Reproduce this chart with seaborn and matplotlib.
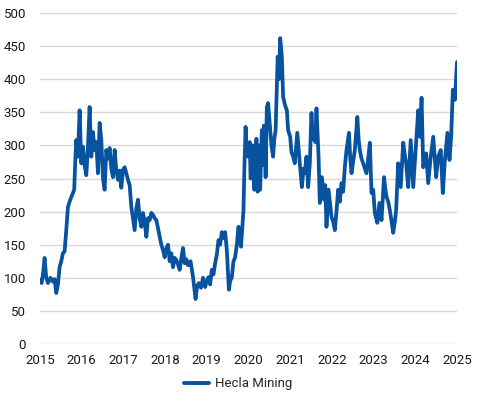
import numpy as np
import pandas as pd
import seaborn as sns
import matplotlib.pyplot as plt

# Hecla Mining indexed price (decimal year, value)
years = [
    2015.00, 2015.04, 2015.08, 2015.11, 2015.15, 2015.19, 2015.25, 2015.31, 2015.35, 2015.39,
    2015.43, 2015.47, 2015.51, 2015.55, 2015.59, 2015.63, 2015.67, 2015.71, 2015.75, 2015.79,
    2015.82, 2015.85, 2015.87, 2015.91, 2015.95, 2015.99, 2016.03, 2016.07, 2016.11, 2016.15,
    2016.19, 2016.23, 2016.27, 2016.31, 2016.35, 2016.39, 2016.43, 2016.47, 2016.51, 2016.55,
    2016.59, 2016.63, 2016.67, 2016.71, 2016.75, 2016.79, 2016.83, 2016.87, 2016.91, 2016.95,
    2016.99, 2017.03, 2017.07, 2017.11, 2017.15, 2017.19, 2017.23, 2017.27, 2017.31, 2017.35,
    2017.39, 2017.43, 2017.47, 2017.51, 2017.55, 2017.59, 2017.63, 2017.67, 2017.71, 2017.75,
    2017.79, 2017.83, 2017.87, 2017.91, 2017.95, 2017.99, 2018.03, 2018.07, 2018.11, 2018.15,
    2018.19, 2018.23, 2018.27, 2018.31, 2018.35, 2018.39, 2018.43, 2018.47, 2018.51, 2018.55,
    2018.61, 2018.67, 2018.70, 2018.73, 2018.77, 2018.81, 2018.86, 2018.91, 2018.96, 2019.00,
    2019.04, 2019.08, 2019.12, 2019.16, 2019.20, 2019.24, 2019.28, 2019.32, 2019.36, 2019.40,
    2019.44, 2019.48, 2019.53, 2019.56, 2019.60, 2019.64, 2019.68, 2019.72, 2019.76, 2019.79,
    2019.82, 2019.85, 2019.88, 2019.90, 2019.93, 2019.96, 2019.99,
    2020.03, 2020.05, 2020.08, 2020.10, 2020.11, 2020.13, 2020.14, 2020.16, 2020.17, 2020.19,
    2020.20, 2020.22, 2020.24, 2020.26, 2020.28, 2020.30, 2020.32, 2020.34, 2020.35, 2020.37,
    2020.38, 2020.40, 2020.41, 2020.43, 2020.44,
    2020.47, 2020.52, 2020.55, 2020.59, 2020.62, 2020.65, 2020.70, 2020.73, 2020.76, 2020.80,
    2020.83, 2020.88, 2020.92, 2020.95, 2021.00, 2021.03, 2021.07, 2021.11, 2021.17, 2021.20,
    2021.23, 2021.28, 2021.32, 2021.35, 2021.39, 2021.43, 2021.47, 2021.51, 2021.54, 2021.57,
    2021.60, 2021.63, 2021.68, 2021.71, 2021.76, 2021.81, 2021.84, 2021.87, 2021.92, 2021.96,
    2021.99, 2022.03, 2022.07, 2022.11, 2022.15, 2022.19, 2022.23, 2022.27, 2022.31, 2022.35,
    2022.41, 2022.44, 2022.47, 2022.51, 2022.55, 2022.61, 2022.64, 2022.67, 2022.71, 2022.75,
    2022.79, 2022.83, 2022.87, 2022.91, 2022.95, 2022.99, 2023.03, 2023.09, 2023.14, 2023.19,
    2023.25, 2023.28, 2023.31, 2023.35, 2023.39, 2023.43, 2023.47, 2023.51, 2023.54, 2023.59,
    2023.65, 2023.71, 2023.75, 2023.78, 2023.83, 2023.89, 2023.95, 2024.02, 2024.07, 2024.11,
    2024.15, 2024.19, 2024.26, 2024.31, 2024.37, 2024.43, 2024.50, 2024.55, 2024.61, 2024.66,
    2024.71, 2024.77, 2024.82, 2024.86, 2024.90, 2024.95, 2025.00,
]
values = [
    97, 92, 110, 130, 100, 92, 100, 94, 98, 77,
    90, 116, 125, 137, 140, 172, 207, 215, 222, 228,
    233, 283, 308, 283, 353, 273, 298, 270, 255, 298,
    358, 283, 320, 293, 305, 258, 334, 308, 250, 233,
    293, 280, 296, 265, 252, 293, 262, 248, 262, 236,
    263, 267, 258, 248, 240, 207, 190, 172, 205, 218,
    190, 177, 198, 185, 162, 190, 187, 198, 195, 190,
    187, 175, 162, 150, 142, 131, 145, 150, 125, 137,
    116, 130, 127, 120, 112, 130, 145, 122, 128, 119,
    125, 101, 85, 68, 88, 92, 85, 100, 86, 95,
    101, 90, 112, 105, 122, 135, 157, 150, 169, 160,
    169, 142, 82, 95, 101, 125, 131, 150, 177, 160,
    147, 175, 202, 263, 328, 290, 283,
    305, 250, 263, 300, 280, 240, 233, 290, 255, 310,
    273, 230, 245, 300, 233, 280, 323, 270, 280, 330,
    283, 300, 252, 320, 358,
    364, 323, 300, 283, 310, 323, 434, 400, 462, 434,
    373, 360, 353, 323, 313, 290, 283, 273, 319, 295,
    273, 237, 265, 258, 283, 237, 273, 349, 310, 323,
    305, 356, 283, 213, 252, 218, 240, 177, 233, 210,
    192, 185, 172, 200, 233, 215, 243, 230, 267, 293,
    319, 280, 258, 275, 293, 343, 310, 293, 280, 273,
    265, 258, 280, 304, 228, 233, 198, 183, 213, 187,
    252, 235, 222, 215, 202, 185, 168, 185, 202, 273,
    237, 304, 285, 273, 237, 308, 237, 304, 353, 313,
    372, 267, 288, 243, 283, 313, 252, 283, 293, 228,
    278, 319, 278, 313, 384, 369, 426,
]
series_name = "Hecla Mining"
y_ticks = [0, 50, 100, 150, 200, 250, 300, 350, 400, 450, 500]
x_ticks = list(range(2015, 2026))

df = pd.DataFrame({"year": years, "value": values, "series": series_name})

sns.set_style("white")
plt.rcParams["font.family"] = ["Roboto", "DejaVu Sans"]

fig = plt.figure(figsize=(4.78, 3.96), dpi=100)
ax = fig.add_axes([40 / 478, 52 / 396, 417 / 478, 331 / 396])

sns.lineplot(data=df, x="year", y="value", hue="series", palette=["#0753a0"],
             linewidth=2.7, ax=ax, legend=False, zorder=3)

ax.set_xlim(2015, 2025)
ax.set_ylim(0, 500)
ax.set_xticks(x_ticks)
ax.set_yticks(y_ticks)
ax.set_xticklabels([str(t) for t in x_ticks], fontsize=9.5, color="#1a1a1a")
ax.set_yticklabels([str(t) for t in y_ticks], fontsize=9.5, color="#1a1a1a")
ax.set_xlabel("")
ax.set_ylabel("")
ax.grid(axis="y", color="#d9d9d9", linewidth=1)
ax.grid(axis="x", visible=False)
ax.tick_params(axis="both", length=0)
ax.tick_params(axis="y", pad=10)
ax.tick_params(axis="x", pad=7)
for s in ax.spines.values():
    s.set_visible(False)

handle = plt.Line2D([], [], color="#0753a0", linewidth=2.8)
fig.legend([handle], [series_name], loc="center", bbox_to_anchor=(238 / 478, 1 - 384 / 396),
           frameon=False, fontsize=9.5, handlelength=1.9, handletextpad=0.4)

fig.savefig("out.png", dpi=100)
